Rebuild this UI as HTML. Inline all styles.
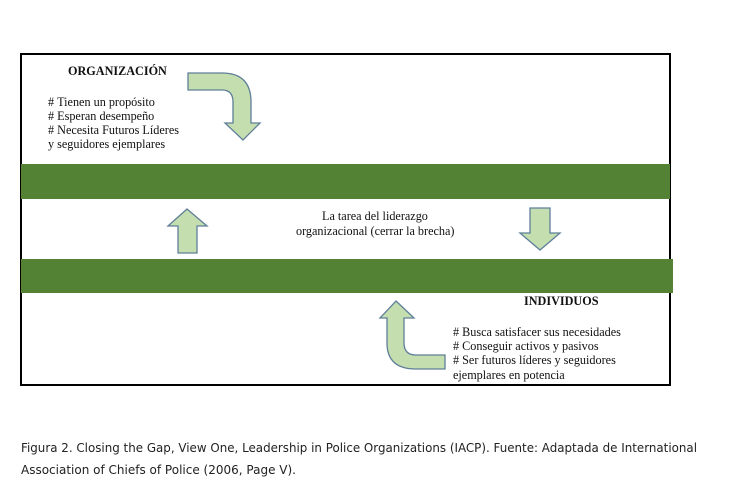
<!DOCTYPE html>
<html><head><meta charset="utf-8"><style>
html,body{margin:0;padding:0;background:#fff;width:732px;height:488px;overflow:hidden}
svg{display:block}
.s{font-family:"Liberation Serif",serif;font-size:12.2px;fill:#111}
.c{font-family:"DejaVu Sans","Liberation Sans",sans-serif;font-size:12.5px;fill:#222}
</style></head><body>
<svg width="732" height="488" viewBox="0 0 732 488">
<rect x="21" y="54" width="649" height="331" fill="#fff" stroke="#000" stroke-width="2"/>
<rect x="21" y="164" width="649" height="35" fill="#548235"/>
<rect x="21" y="259" width="652" height="34" fill="#548235"/>
<g fill="#c5deb0" stroke="#5f7f99" stroke-width="1.3">
<path d="M188,73 L222,73 Q251,73 251,102 L251,123 L260,123 L243,140 L225,123 L233,123 L233,102 Q233,90 222,90 L188,90 Z"/>
<path d="M396,301 L414,318 L404,318 L404,343 Q404,355 416,355 L445,355 L445,369 L416,369 Q387,369 387,343 L387,318 L380,318 Z"/>
<path d="M187,209 L207,226 L197,226 L197,253 L178,253 L178,226 L168,226 Z"/>
<path d="M530,208 L550,208 L550,233 L560,233 L540,250 L520,233 L530,233 Z"/>
</g>
<text class="s" x="68" y="75" font-weight="bold">ORGANIZACIÓN</text>
<text class="s" x="48" y="106">#&#160;Tienen un propósito</text>
<text class="s" x="48" y="120">#&#160;Esperan desempeño</text>
<text class="s" x="48" y="134">#&#160;Necesita Futuros Líderes</text>
<text class="s" x="48" y="148">y seguidores ejemplares</text>
<text class="s" x="322" y="220">La tarea del liderazgo</text>
<text class="s" x="296" y="235">organizacional (cerrar la brecha)</text>
<text class="s" x="524" y="305" font-weight="bold">INDIVIDUOS</text>
<text class="s" x="453" y="336">#&#160;Busca satisfacer sus necesidades</text>
<text class="s" x="453" y="350">#&#160;Conseguir activos y pasivos</text>
<text class="s" x="453" y="364">#&#160;Ser futuros líderes y seguidores</text>
<text class="s" x="453" y="379">ejemplares en potencia</text>
<text class="c" x="21" y="452" textLength="676" lengthAdjust="spacingAndGlyphs">Figura 2. Closing the Gap, View One, Leadership in Police Organizations (IACP). Fuente:  Adaptada de International</text>
<text class="c" x="21" y="474" textLength="275" lengthAdjust="spacingAndGlyphs">Association of Chiefs of Police (2006, Page V).</text>
</svg>
</body></html>
